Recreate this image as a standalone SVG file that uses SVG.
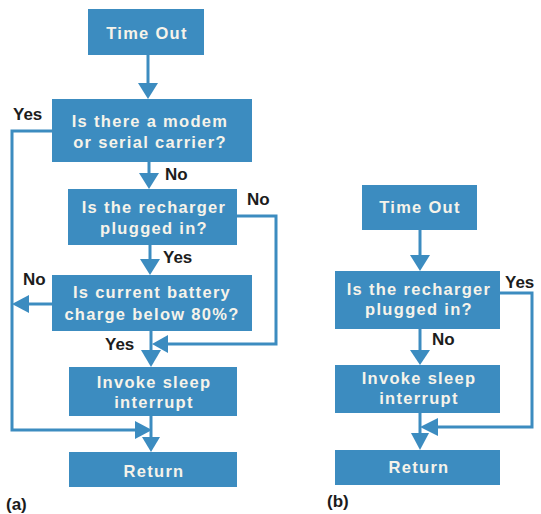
<svg xmlns="http://www.w3.org/2000/svg" width="541" height="514" viewBox="0 0 541 514">
<defs>
<style>
.box{fill:#3c8cc0}
.bt{font-family:"Liberation Sans",Arial,sans-serif;font-weight:bold;font-size:16.5px;letter-spacing:1.3px;fill:#f6f3ea;text-anchor:middle}
.lb{font-family:"Liberation Sans",Arial,sans-serif;font-weight:bold;font-size:17px;fill:#1c1c1c}
.cap{font-family:"Liberation Sans",Arial,sans-serif;font-weight:bold;font-size:17px;fill:#1c1c1c}
.ln{fill:none;stroke:#3c8cc0;stroke-width:3}
.ah{fill:#3c8cc0}
</style>
</defs>
<rect width="541" height="514" fill="#ffffff"/>
<g id="connectors">
<line class="ln" x1="148" y1="55" x2="148" y2="85"/>
<polygon class="ah" points="138,83 158,83 148,99"/>
<path class="ln" d="M52,131 H12 V430 H137"/>
<polygon class="ah" points="135,421 135,439 152,430"/>
<line class="ln" x1="149" y1="162" x2="149" y2="175"/>
<polygon class="ah" points="139,173 159,173 149,189"/>
<path class="ln" d="M237,216 H276 V344 H166"/>
<polygon class="ah" points="168,335 168,353 152,344"/>
<line class="ln" x1="150" y1="245" x2="150" y2="261"/>
<polygon class="ah" points="140,259 160,259 150,275"/>
<line class="ln" x1="52" y1="304" x2="27" y2="304"/>
<polygon class="ah" points="29,295 29,313 12,304"/>
<line class="ln" x1="151" y1="331" x2="151" y2="352"/>
<polygon class="ah" points="141,350 161,350 151,367"/>
<line class="ln" x1="151" y1="416" x2="151" y2="439"/>
<polygon class="ah" points="142,437 160,437 151,452"/>
<line class="ln" x1="420" y1="230" x2="420" y2="257"/>
<polygon class="ah" points="410,255 430,255 420,271"/>
<path class="ln" d="M500,293 H532 V427 H436"/>
<polygon class="ah" points="438,418 438,436 420,427"/>
<line class="ln" x1="420" y1="329" x2="420" y2="352"/>
<polygon class="ah" points="410,350 430,350 420,365"/>
<line class="ln" x1="420" y1="413" x2="420" y2="435"/>
<polygon class="ah" points="411,433 429,433 420,450"/>
</g>
<g id="a-timeout"><rect class="box" x="88" y="9" width="116" height="46"/><text class="bt" x="147" y="39">Time Out</text></g>
<g id="a-modem"><rect class="box" x="52" y="99" width="200" height="63"/><text class="bt" x="150" y="127">Is there a modem</text><text class="bt" x="150" y="148">or serial carrier?</text></g>
<g id="a-recharger"><rect class="box" x="68" y="189" width="169" height="56"/><text class="bt" x="154" y="213">Is the recharger</text><text class="bt" x="154" y="234">plugged in?</text></g>
<g id="a-battery"><rect class="box" x="52" y="275" width="200" height="56"/><text class="bt" x="152" y="298">Is current battery</text><text class="bt" x="152" y="320">charge below 80%?</text></g>
<g id="a-sleep"><rect class="box" x="69" y="367" width="168" height="49"/><text class="bt" x="154" y="388">Invoke sleep</text><text class="bt" x="154" y="408">interrupt</text></g>
<g id="a-return"><rect class="box" x="69" y="452" width="168" height="35"/><text class="bt" x="154" y="477">Return</text></g>
<g id="b-timeout"><rect class="box" x="362" y="185" width="115" height="45"/><text class="bt" x="420" y="213">Time Out</text></g>
<g id="b-recharger"><rect class="box" x="335" y="271" width="165" height="58"/><text class="bt" x="419" y="295">Is the recharger</text><text class="bt" x="419" y="315">plugged in?</text></g>
<g id="b-sleep"><rect class="box" x="335" y="365" width="165" height="48"/><text class="bt" x="419" y="384">Invoke sleep</text><text class="bt" x="419" y="404">interrupt</text></g>
<g id="b-return"><rect class="box" x="335" y="450" width="165" height="35"/><text class="bt" x="419" y="473">Return</text></g>
<g id="labels">
<text class="lb" x="13" y="120">Yes</text>
<text class="lb" x="165" y="180">No</text>
<text class="lb" x="247" y="205">No</text>
<text class="lb" x="163" y="263">Yes</text>
<text class="lb" x="23" y="285">No</text>
<text class="lb" x="105" y="350">Yes</text>
<text class="lb" x="505" y="288">Yes</text>
<text class="lb" x="432" y="345">No</text>
<text class="cap" x="6" y="510">(a)</text>
<text class="cap" x="327" y="507">(b)</text>
</g>
</svg>
